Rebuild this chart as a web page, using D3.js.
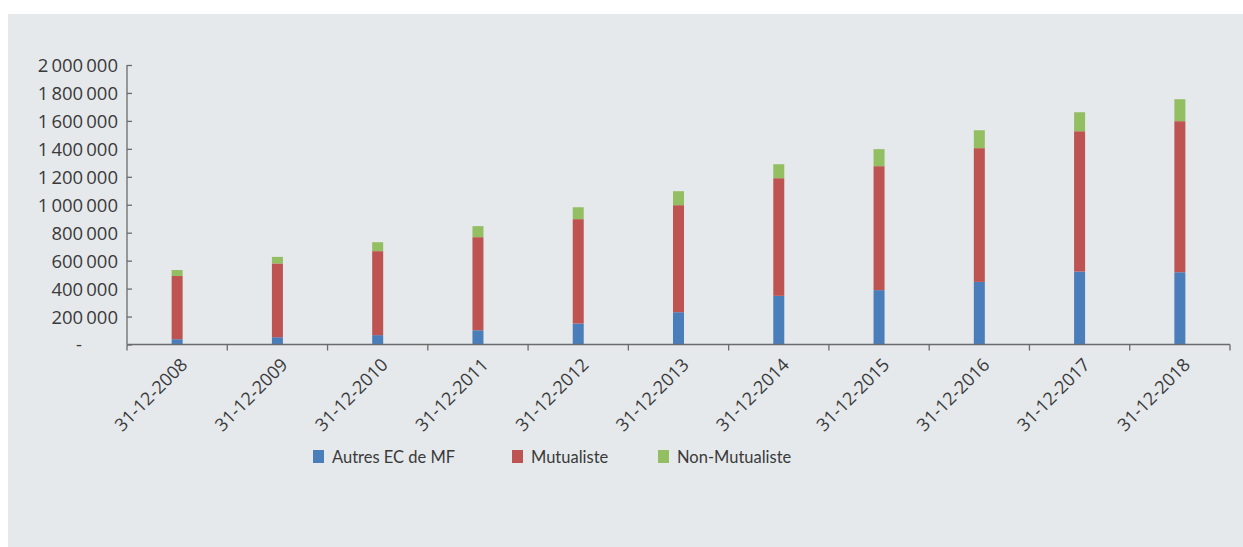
<!DOCTYPE html>
<html>
<head>
<meta charset="utf-8">
<script src="https://cdn.jsdelivr.net/npm/d3@7"></script>
<style>
    body { margin: 0; background: #fff; }
    svg { display: block; }
</style>
</head>
<body>
<svg id="chart" width="1243" height="547"></svg>
<script>
// données
const dates = ['31-12-2008','31-12-2009','31-12-2010','31-12-2011','31-12-2012','31-12-2013',
               '31-12-2014','31-12-2015','31-12-2016','31-12-2017','31-12-2018'];
const autresEC = [38000, 52000, 67000, 102000, 150000, 231000, 348000, 389000, 448000, 522000, 517000];
const mutualiste = [452000, 528000, 601000, 666000, 747000, 766000, 842000, 887000, 957000, 1004000, 1081000];
const nonMutualiste = [43000, 47000, 64000, 79000, 85000, 100000, 100000, 122000, 128000, 136000, 157000];
const seriesNames = ['Autres EC de MF', 'Mutualiste', 'Non-Mutualiste'];
const yTicks = [0, 200000, 400000, 600000, 800000, 1000000, 1200000, 1400000, 1600000, 1800000, 2000000];

const colors = ['#4a7ebb', '#be5451', '#93be62'];

let svg = d3.select('#chart');

//fond gris
svg.append('rect')
    .attr('x', 8).attr('y', 14)
    .attr('width', 1235).attr('height', 533)
    .attr('fill', '#e5e9ec');

let plotLeft = 127, plotRight = 1230, plotTop = 65, plotBottom = 344.5;

let x = d3.scaleBand().domain(dates).range([plotLeft, plotRight]).padding(0);
let y = d3.scaleLinear().domain([0, 2000000]).range([plotBottom, plotTop]);

//empilement
let table = dates.map((d, i) => ({date: d, a: autresEC[i], m: mutualiste[i], n: nonMutualiste[i]}));
let stack = d3.stack().keys(['a', 'm', 'n'])(table);

let barW = 11;
svg.append('g')
    .selectAll('g')
    .data(stack)
    .enter()
    .append('g')
    .attr('fill', (d, i) => colors[i])
    .selectAll('rect')
    .data(d => d)
    .enter()
    .append('rect')
    .attr('x', d => x(d.data.date) + x.bandwidth() / 2 - barW / 2)
    .attr('y', d => y(d[1]))
    .attr('width', barW)
    .attr('height', d => y(d[0]) - y(d[1]));

//axe Y
let fmt = v => v === 0 ? '-' : d3.format(',')(v).replace(/,/g, '\u2006');
let yAxis = svg.append('g')
    .attr('transform', `translate(${plotLeft},0)`)
    .call(d3.axisRight(y).tickValues(yTicks).tickSize(5).tickFormat(fmt));
yAxis.select('.domain')
    .attr('d', `M0,${plotTop}V${plotBottom}`)
    .attr('stroke', '#6b6b6b').attr('stroke-width', 1.3);
yAxis.selectAll('.tick line').attr('stroke', '#6b6b6b').attr('stroke-width', 1.3);
yAxis.selectAll('.tick text')
    .attr('x', d => d === 0 ? -45 : -9)
    .attr('text-anchor', 'end')
    .attr('dy', '0.35em')
    .attr('fill', '#3a3a3a')
    .style('font-family', '"Open Sans", sans-serif')
    .style('font-size', '18.5px');

//axe X
let xAxis = svg.append('g')
    .attr('transform', `translate(0,${plotBottom})`)
    .call(d3.axisBottom(x).tickSize(0).tickSizeOuter(0));
xAxis.select('.domain').remove();
xAxis.selectAll('.tick text')
    .attr('y', 0)
    .attr('dy', '0.35em')
    .attr('text-anchor', 'end')
    .attr('transform', 'translate(7,17) rotate(-45)')
    .attr('fill', '#3a3a3a')
    .style('font-family', '"Open Sans", sans-serif')
    .style('font-size', '18px');

let bounds = dates.map(d => x(d)).concat([plotRight]);
let xLine = svg.append('g').attr('stroke', '#6b6b6b').attr('stroke-width', 1.3);
xLine.append('line')
    .attr('x1', plotLeft).attr('x2', plotRight)
    .attr('y1', plotBottom).attr('y2', plotBottom);
xLine.selectAll('.tk')
    .data(bounds)
    .enter()
    .append('line')
    .attr('x1', d => d).attr('x2', d => d)
    .attr('y1', plotBottom).attr('y2', plotBottom + 6);

//légende
let legendX = [313, 512, 658];
let legend = svg.append('g').selectAll('g')
    .data(seriesNames)
    .enter()
    .append('g')
    .attr('transform', (d, i) => `translate(${legendX[i]},450)`);
legend.append('rect')
    .attr('width', 11).attr('height', 13)
    .attr('fill', (d, i) => colors[i]);
legend.append('text')
    .attr('x', 19).attr('y', 7)
    .attr('dy', '0.35em')
    .attr('fill', '#3a3a3a')
    .style('font-family', 'Lato, sans-serif')
    .style('font-size', '16.5px')
    .text(d => d);
</script>
</body>
</html>
